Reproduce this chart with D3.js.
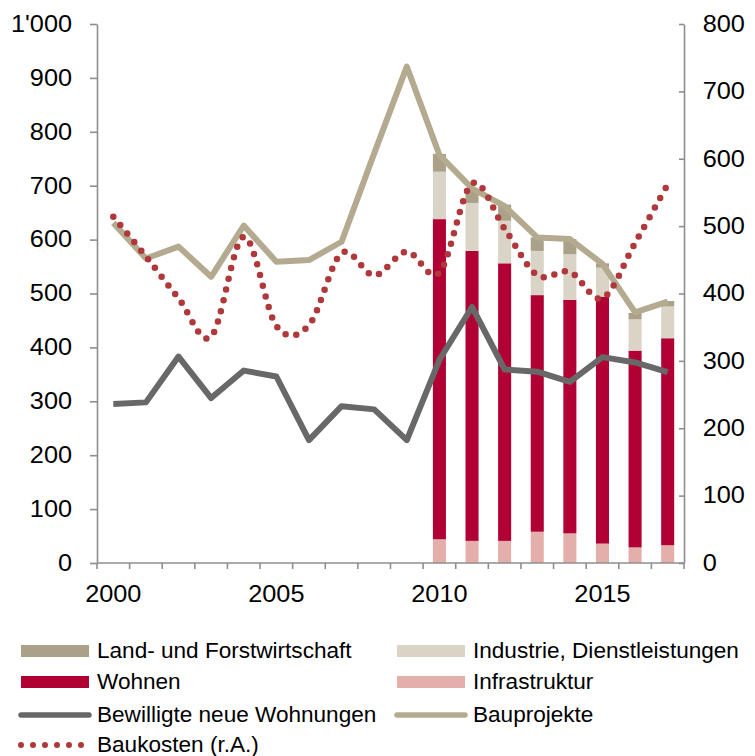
<!DOCTYPE html>
<html>
<head>
<meta charset="utf-8">
<script src="https://cdn.jsdelivr.net/npm/d3@7/dist/d3.min.js"></script>
<style>
  body { margin: 0; background: #fff; }
  text { font-family: "Liberation Sans", Arial, sans-serif; fill: #000; }
</style>
</head>
<body>
<svg id="chart" width="755" height="756"></svg>
<script>
// categories
const years = [2000, 2001, 2002, 2003, 2004, 2005, 2006, 2007, 2008, 2009,
               2010, 2011, 2012, 2013, 2014, 2015, 2016, 2017];
const barYears = [2010, 2011, 2012, 2013, 2014, 2015, 2016, 2017];
const xLabels = [2000, 2005, 2010, 2015];

// stacked bars (left axis), bottom to top
const infrastruktur = [44, 41, 41, 58, 55, 36, 29, 33];
const wohnen        = [594, 538, 515, 439, 433, 458, 365, 384];
const industrie     = [88, 89, 79, 82, 85, 54, 58, 59];
const landForst     = [33, 25, 30, 25, 28, 8, 12, 10];

// lines
const bauprojekte = [631, 565, 587, 531, 626, 559, 562, 596, 760, 921,
                     757, 695, 662, 604, 601, 555, 465, 485];
const bewilligt   = [295, 298, 383, 306, 357, 346, 228, 291, 285, 228,
                     377, 475, 359, 355, 336, 382, 372, 354];
const baukosten   = [514, 455, 393, 336, 484, 352, 353, 460, 427, 462,
                     431, 563, 496, 427, 432, 393, 475, 562]; // r.A.

const leftTicks  = [0, 100, 200, 300, 400, 500, 600, 700, 800, 900, 1000];
const rightTicks = [0, 100, 200, 300, 400, 500, 600, 700, 800];

const legendLabels = {
  land: "Land- und Forstwirtschaft",
  industrie: "Industrie, Dienstleistungen",
  wohnen: "Wohnen",
  infra: "Infrastruktur",
  bewilligt: "Bewilligte neue Wohnungen",
  bauprojekte: "Bauprojekte",
  baukosten: "Baukosten (r.A.)"
};

const colors = {
  land: "#aba188",
  industrie: "#dad4c7",
  wohnen: "#b10033",
  infra: "#e4aeab",
  bewilligt: "#686868",
  bauprojekte: "#b4aa8f",
  baukosten: "#b0373a",
  axis: "#8e8e8e"
};

const svg = d3.select("#chart");
const mLeft = 97, mRight = 684, mTop = 24, mBottom = 563;
const stretch = "scale(1.1,1)";

const x = d3.scaleBand().domain(years).range([mLeft, mRight])
  .paddingInner(0.6).paddingOuter(0.3);
const yL = d3.scaleLinear().domain([0, 1000]).range([mBottom, mTop]);
const yR = d3.scaleLinear().domain([0, 800]).range([mBottom, mTop]);
const cx = d => x(d) + x.bandwidth() / 2;

const fmt = d3.formatLocale({ decimal: ".", thousands: "'", grouping: [3], currency: ["", ""] }).format(",");

// stacked bars
const barRows = barYears.map((yr, i) => ({
  year: yr, infra: infrastruktur[i], wohnen: wohnen[i], industrie: industrie[i], land: landForst[i]
}));
const stack = d3.stack().keys(["infra", "wohnen", "industrie", "land"])(barRows);

svg.append("g").selectAll("g")
  .data(stack)
  .join("g")
  .attr("fill", s => colors[s.key])
  .selectAll("rect")
  .data(s => s)
  .join("rect")
  .attr("x", d => x(d.data.year))
  .attr("width", x.bandwidth())
  .attr("y", d => yL(d[1]))
  .attr("height", d => yL(d[0]) - yL(d[1]));

// lines
const lineL = d3.line().x((d, i) => cx(years[i])).y(d => yL(d));
const lineR = d3.line().x((d, i) => cx(years[i])).y(d => yR(d)).curve(d3.curveCardinal);

svg.append("path").datum(bauprojekte)
  .attr("d", lineL).attr("fill", "none")
  .attr("stroke", colors.bauprojekte).attr("stroke-width", 6)
  .attr("stroke-linejoin", "round");

svg.append("path").datum(baukosten)
  .attr("d", lineR).attr("fill", "none")
  .attr("stroke", colors.baukosten).attr("stroke-width", 6.5)
  .attr("stroke-linecap", "round").attr("stroke-dasharray", "0 11");

svg.append("path").datum(bewilligt)
  .attr("d", lineL).attr("fill", "none")
  .attr("stroke", colors.bewilligt).attr("stroke-width", 6)
  .attr("stroke-linejoin", "round");

// axes
function styleAxis(g) {
  g.select(".domain").attr("stroke", colors.axis).attr("stroke-width", 1.6);
  g.selectAll(".tick line").attr("stroke", colors.axis).attr("stroke-width", 1.6);
  g.selectAll("text").attr("font-size", 23).attr("fill", "#000")
    .attr("font-family", "Liberation Sans, Arial, sans-serif")
    .attr("transform", stretch);
}

svg.append("g").attr("transform", `translate(${mLeft},0)`)
  .call(d3.axisLeft(yL).tickValues(leftTicks).tickFormat(fmt)
    .tickSizeInner(7).tickSizeOuter(0).tickPadding(15.7))
  .call(styleAxis);

svg.append("g").attr("transform", `translate(${mRight},0)`)
  .call(d3.axisRight(yR).tickValues(rightTicks)
    .tickSizeInner(-5).tickSizeOuter(0).tickPadding(17))
  .call(styleAxis);

// bottom axis: line + ticks at category boundaries, labels every 5 years
const step = x.step();
const bounds = years.map(yr => x(yr) - step * 0.3).concat([mRight]);
const gx = svg.append("g");
gx.append("line").attr("x1", mLeft).attr("x2", mRight).attr("y1", mBottom).attr("y2", mBottom)
  .attr("stroke", colors.axis).attr("stroke-width", 1.6);
gx.selectAll(".bt").data(bounds).join("line")
  .attr("x1", d => d).attr("x2", d => d).attr("y1", mBottom).attr("y2", mBottom + 6)
  .attr("stroke", colors.axis).attr("stroke-width", 1.6);
gx.selectAll(".bl").data(xLabels).join("text")
  .attr("transform", d => `translate(${cx(d)},602) ${stretch}`)
  .attr("text-anchor", "middle").attr("font-size", 23)
  .text(d => d);

// legend
const legendItems = [
  { key: "land", kind: "rect", col: 0, row: 0 },
  { key: "industrie", kind: "rect", col: 1, row: 0 },
  { key: "wohnen", kind: "rect", col: 0, row: 1 },
  { key: "infra", kind: "rect", col: 1, row: 1 },
  { key: "bewilligt", kind: "line", col: 0, row: 2 },
  { key: "bauprojekte", kind: "line", col: 1, row: 2 },
  { key: "baukosten", kind: "dots", col: 0, row: 3 }
];
const colX = [21, 397], rowY = [651, 682, 715, 745];

const lg = svg.append("g").selectAll("g").data(legendItems).join("g")
  .attr("transform", d => `translate(${colX[d.col]},${rowY[d.row]})`);

lg.filter(d => d.kind === "rect").append("rect")
  .attr("x", 0).attr("y", -6).attr("width", 68).attr("height", 12)
  .attr("fill", d => colors[d.key]);
lg.filter(d => d.kind === "line").append("line")
  .attr("x1", 0).attr("x2", 68).attr("y1", 0).attr("y2", 0)
  .attr("stroke", d => colors[d.key]).attr("stroke-width", 5.5).attr("stroke-linecap", "round");
lg.filter(d => d.kind === "dots").append("line")
  .attr("x1", 0).attr("x2", 62).attr("y1", 0).attr("y2", 0)
  .attr("stroke", d => colors[d.key]).attr("stroke-width", 6).attr("stroke-linecap", "round")
  .attr("stroke-dasharray", "0 12");

lg.append("text")
  .attr("transform", "translate(76,7) scale(1.05,1)")
  .attr("font-size", 21.5)
  .text(d => legendLabels[d.key]);
</script>
</body>
</html>
